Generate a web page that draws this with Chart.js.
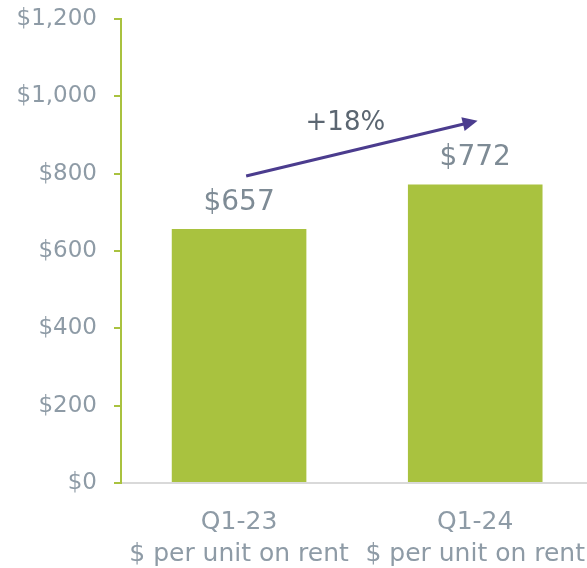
<!DOCTYPE html>
<html>
<head>
<meta charset="utf-8">
<script src="https://cdn.jsdelivr.net/npm/chart.js@4"></script>
<style>
  html, body { margin: 0; padding: 0; background: #fff; overflow: hidden; }
  #wrap { width: 600px; height: 568px; }
</style>
</head>
<body>
<div id="wrap"><canvas id="rentChart"></canvas></div>
<script>
const categories = [['Q1-23', '$ per unit on rent'], ['Q1-24', '$ per unit on rent']];
const values = [657, 772];
const yTicks = [0, 200, 400, 600, 800, 1000, 1200];
const changeLabel = '+18%';

const green = '#A9C23F';
const tickGrey = '#8E9BA6';
const labelGrey = '#7E8B95';
const font = 'DejaVu Sans';

// money format for ticks and labels
const money = v => '$' + v.toLocaleString('en-US');

// value labels above bars + growth arrow
const annotate = {
  id: 'annotate',
  afterDatasetsDraw(chart) {
    const ctx = chart.ctx;
    const x = chart.scales.x;
    const y = chart.scales.y;
    const meta = chart.getDatasetMeta(0);

    ctx.save();
    ctx.fillStyle = labelGrey;
    ctx.font = '28px "' + font + '"';
    ctx.textAlign = 'center';
    ctx.textBaseline = 'alphabetic';
    meta.data.forEach((bar, i) => {
      ctx.fillText(money(values[i]), bar.x, bar.y - 19);
    });

    // arrow from first label towards second
    const step = x.getPixelForValue(1) - x.getPixelForValue(0);
    const x0 = x.getPixelForValue(0) + step * 0.03;
    const y0 = y.getPixelForValue(794);
    const x1 = x.getPixelForValue(1) + step * 0.01;
    const y1 = y.getPixelForValue(937);
    const ang = Math.atan2(y1 - y0, x1 - x0);
    const head = 15;
    ctx.strokeStyle = '#4B3C8E';
    ctx.fillStyle = '#4B3C8E';
    ctx.lineWidth = 3;
    ctx.beginPath();
    ctx.moveTo(x0, y0);
    ctx.lineTo(x1 - Math.cos(ang) * head * 0.8, y1 - Math.sin(ang) * head * 0.8);
    ctx.stroke();
    ctx.beginPath();
    ctx.moveTo(x1, y1);
    ctx.lineTo(x1 - head * Math.cos(ang) + 7 * Math.sin(ang), y1 - head * Math.sin(ang) - 7 * Math.cos(ang));
    ctx.lineTo(x1 - head * Math.cos(ang) - 7 * Math.sin(ang), y1 - head * Math.sin(ang) + 7 * Math.cos(ang));
    ctx.closePath();
    ctx.fill();

    ctx.fillStyle = '#5B6671';
    ctx.font = '26px "' + font + '"';
    ctx.textBaseline = 'middle';
    ctx.fillText(changeLabel, x.getPixelForValue(0) + step * 0.45, y.getPixelForValue(931));
    ctx.restore();
  }
};

new Chart(document.getElementById('rentChart'), {
  type: 'bar',
  data: {
    labels: categories,
    datasets: [{
      data: values,
      backgroundColor: green,
      barPercentage: 1,
      categoryPercentage: 0.57
    }]
  },
  options: {
    responsive: true,
    maintainAspectRatio: false,
    animation: false,
    layout: { padding: { top: 19, left: 0, right: 0, bottom: 0 } },
    plugins: { legend: { display: false }, tooltip: { enabled: false } },
    scales: {
      x: {
        grid: { display: false },
        border: { color: '#D9D9D9', width: 2 },
        ticks: {
          color: tickGrey,
          font: { family: font, size: 25, lineHeight: 1.28 },
          padding: 15,
          maxRotation: 0
        },
        afterFit: s => { s.height = 85; }
      },
      y: {
        min: 0,
        max: 1200,
        afterBuildTicks: s => { s.ticks = yTicks.map(v => ({ value: v })); },
        grid: { drawOnChartArea: false, drawTicks: true, tickLength: 7, color: green, lineWidth: 2 },
        border: { color: green, width: 2 },
        ticks: {
          color: tickGrey,
          font: { family: font, size: 23, lineHeight: 0.1 },
          padding: 17,
          callback: v => money(v)
        },
        afterFit: s => { s.width = 121; }
      }
    }
  },
  plugins: [annotate]
});
</script>
</body>
</html>
